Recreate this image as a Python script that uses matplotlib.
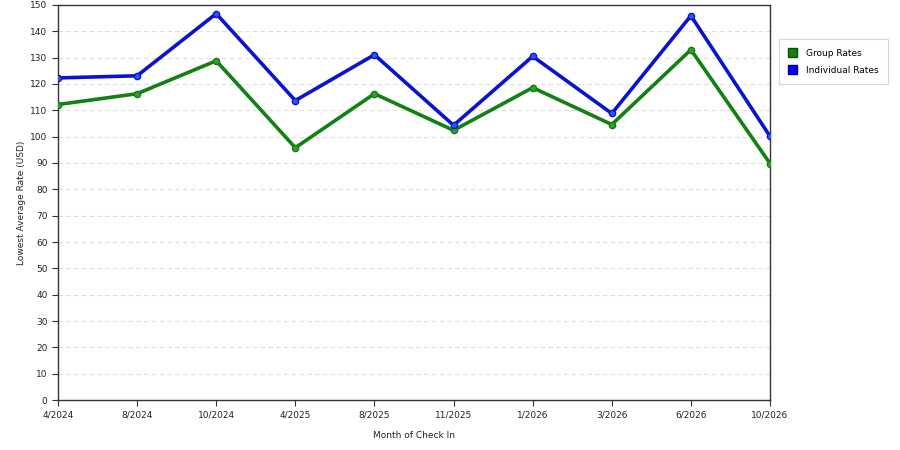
import matplotlib
matplotlib.use("Agg")
import matplotlib.pyplot as plt
from matplotlib.patches import Patch

months = ["4/2024", "8/2024", "10/2024", "4/2025", "8/2025", "11/2025", "1/2026", "3/2026", "6/2026", "10/2026"]
group_rates = [112.2, 116.3, 128.8, 95.8, 116.3, 102.4, 118.6, 104.6, 133.0, 89.8]
individual_rates = [122.3, 123.1, 146.7, 113.7, 131.1, 104.3, 130.5, 108.8, 145.9, 100.1]
yticks = list(range(0, 151, 10))

fig = plt.figure(figsize=(9, 4.5), dpi=100)
ax = fig.add_axes([0.0644, 0.111, 0.7912, 0.878])
x = list(range(len(months)))
ax.plot(x, group_rates, color="#128012", lw=2.6, marker="o", ms=4.5, mfc="#3a9a2a", mec="#128012", zorder=3)
ax.plot(x, individual_rates, color="#0a14cc", lw=2.6, marker="o", ms=4.5, mfc="#2a5ae8", mec="#0a14cc", zorder=4)
ax.set_xlim(0, len(months) - 1)
ax.set_ylim(0, 150)
ax.set_xticks(x)
ax.set_xticklabels(months)
ax.set_yticks(yticks)
ax.tick_params(labelsize=6.5, length=4, color="#333333", labelcolor="#222222")
ax.grid(axis="y", color="#dddddd", ls=(0, (4, 3)), lw=0.8)
ax.set_axisbelow(True)
for s in ax.spines.values():
    s.set_color("#333333")
    s.set_linewidth(1)
ax.set_xlabel("Month of Check In", fontsize=6.5, color="#222222", labelpad=8)
ax.set_ylabel("Lowest Average Rate (USD)", fontsize=6.5, color="#222222", labelpad=3)

handles = [Patch(facecolor="#128012", edgecolor="#0a4a0a", label="Group Rates"),
           Patch(facecolor="#0000ff", edgecolor="#00008a", label="Individual Rates")]
leg = fig.legend(handles=handles, loc="upper left", bbox_to_anchor=(0.865, 0.913),
                 fontsize=6.5, frameon=True, fancybox=False, handlelength=1.1, handleheight=1.2,
                 handletextpad=1.0, borderpad=1.0, labelspacing=0.8, borderaxespad=0)
leg.get_frame().set_edgecolor("#cccccc")
leg.get_frame().set_linewidth(0.8)
fig.savefig("out.png", dpi=100)
